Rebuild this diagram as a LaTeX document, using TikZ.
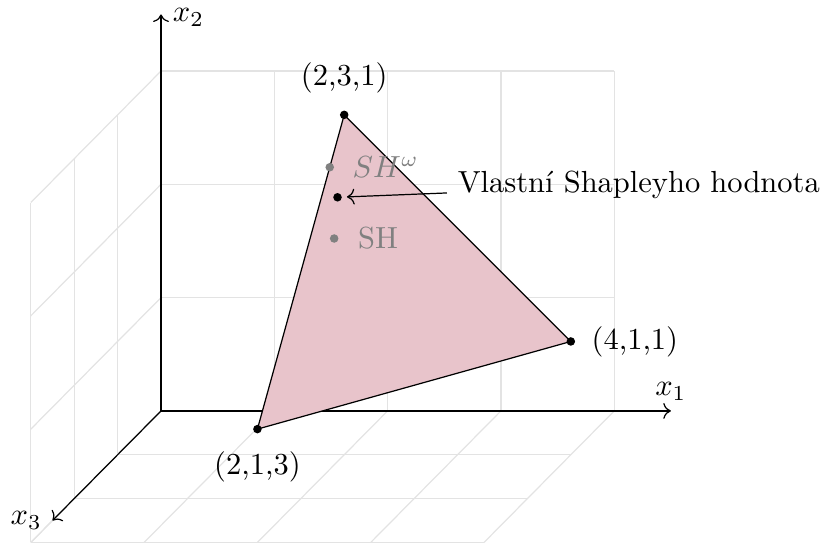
\documentclass[tikz,border=0pt]{standalone}
\usetikzlibrary{arrows.meta}
\definecolor{trifill}{RGB}{232,196,203}
\begin{document}
\begin{tikzpicture}[x={(1.3055cm,0cm)}, y={(0cm,1.3055cm)}, z={(-0.5cm,-0.505cm)},
  gridline/.style={draw=gray!22, line width=0.4pt},
  axis/.style={->, line width=0.4pt},
  dot/.style={circle, fill=black, inner sep=0pt, minimum size=2.8pt},
  graydot/.style={circle, fill=gray, inner sep=0pt, minimum size=2.8pt},
  graylabel/.style={text=gray}]
\useasboundingbox (-1.421,-1.183) rectangle (5.887,3.627);
% back wall (x1-x2)
\foreach \i in {0,...,4} \draw[gridline] (\i,0,0) -- (\i,3,0);
\foreach \j in {0,...,3} \draw[gridline] (0,\j,0) -- (4,\j,0);
% left wall (x2-x3)
\foreach \k in {0,...,3} \draw[gridline] (0,0,\k) -- (0,3,\k);
\foreach \j in {0,...,3} \draw[gridline] (0,\j,0) -- (0,\j,3);
% floor (x1-x3)
\foreach \i in {0,...,4} \draw[gridline] (\i,0,0) -- (\i,0,3);
\foreach \k in {0,...,3} \draw[gridline] (0,0,\k) -- (4,0,\k);
% axes
\coordinate (O) at (0,0,0);
\coordinate (e1) at (4.5,0,0);
\coordinate (e2) at (0,3.5,0);
\coordinate (e3) at (0,0,2.5);
\draw[axis] (O) -- (e1) node[above] (lx1) {$x_1$};
\draw[axis] (O) -- (e2) node[right, inner sep=0.5pt, xshift=3.2pt, yshift=-1pt] (lx2) {$x_2$};
\draw[axis] (O) -- (e3) node[left] (lx3) {$x_3$};
% triangle
\coordinate (A) at (2,3,1);
\coordinate (B) at (4,1,1);
\coordinate (C) at (2,1,3);
\filldraw[fill=trifill, draw=black, line width=0.4pt] (A) -- (B) -- (C) -- cycle;
\node[dot] (vA) at (A) {};
\node[dot] (vB) at (B) {};
\node[dot] (vC) at (C) {};
\node[above=3.5pt] (lA) at (A) {(2,3,1)};
\node[right=3.3pt] (lB) at (B) {(4,1,1)};
\node[below=3.8pt] (lC) at (C) {(2,1,3)};
% points
\node[graydot] (shw) at (2,8/3,4/3) {};
\node[dot] (vsh) at (19/9,22/9,13/9) {};
\node[graydot] (sh) at (13/6,13/6,5/3) {};
\node[graylabel, right=4pt] (lshw) at (shw) {$SH^\omega$};
\node[graylabel, right=4.3pt] (lsh) at (sh) {SH};
\node[anchor=base west] (vl) at (2.524,1.924) {Vlastní Shapleyho hodnota};
\draw[->, shorten >=1.5pt] (vl.base west) -- (vsh);
\end{tikzpicture}
\end{document}
